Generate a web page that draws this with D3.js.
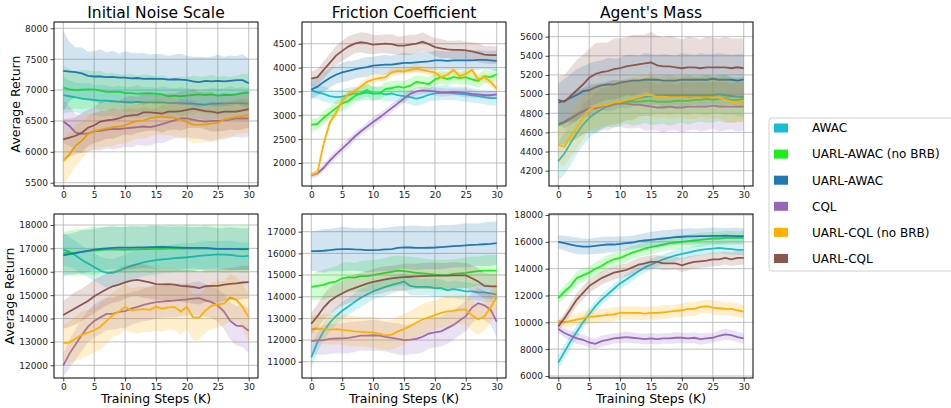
<!DOCTYPE html>
<html>
<head>
<meta charset="utf-8">
<script src="https://cdn.jsdelivr.net/npm/d3@7/dist/d3.min.js"></script>
<style>
body { margin: 0; background: #fff; }
text { font-family: "DejaVu Sans", sans-serif; }
</style>
</head>
<body>
<script>
// methods and colours, legend order
var methods = ["AWAC", "UARL-AWAC (no BRB)", "UARL-AWAC", "CQL", "UARL-CQL (no BRB)", "UARL-CQL"];
var colors = ["#17becf", "#1aef1a", "#1f77b4", "#9467bd", "#ffb000", "#8c564b"];

var steps = [0,1,2,3,4,5,6,7,8,9,10,11,12,13,14,15,16,17,18,19,20,21,22,23,24,25,26,27,28,29,30];
var xTicks = [0, 5, 10, 15, 20, 25, 30];
var titles = ["Initial Noise Scale", "Friction Coefficient", "Agent's Mass"];

// y tick labels per panel (row 1 then row 2)
var yTicks = [
  [5500, 6000, 6500, 7000, 7500, 8000],
  [2000, 2500, 3000, 3500, 4000, 4500],
  [4200, 4400, 4600, 4800, 5000, 5200, 5400, 5600],
  [12000, 13000, 14000, 15000, 16000, 17000, 18000],
  [11000, 12000, 13000, 14000, 15000, 16000, 17000],
  [6000, 8000, 10000, 12000, 14000, 16000, 18000]
];
var yLimits = [[5447, 8102], [1518, 4955], [4040, 5753], [11457, 18470], [10248, 17817], [5851, 18075]];

// ---- Initial Noise Scale (top) ----
var noiseTopMean = [
  [6920,6900,6880,6860,6850,6840,6830,6830,6820,6810,6810,6800,6810,6800,6800,6800,6800,6790,6790,6790,6780,6780,6770,6760,6780,6780,6780,6790,6790,6790,6780],
  [7040,7010,7000,7005,7010,7010,6990,6970,6970,6975,6950,6950,6940,6945,6950,6940,6930,6900,6910,6900,6910,6920,6930,6920,6930,6910,6920,6920,6930,6950,6960],
  [7310,7300,7290,7270,7230,7220,7220,7210,7215,7200,7200,7190,7195,7180,7185,7180,7180,7170,7175,7170,7160,7140,7130,7150,7140,7150,7140,7150,7160,7160,7110],
  [6490,6420,6310,6290,6300,6330,6340,6360,6370,6370,6380,6390,6400,6410,6400,6420,6450,6480,6510,6540,6540,6520,6500,6490,6500,6500,6510,6520,6540,6540,6540],
  [5850,5960,6100,6180,6290,6330,6360,6380,6400,6410,6430,6470,6500,6510,6540,6560,6570,6560,6550,6520,6480,6440,6440,6440,6460,6470,6520,6540,6570,6580,6600],
  [6200,6230,6260,6310,6390,6430,6490,6510,6520,6540,6580,6590,6600,6640,6640,6630,6620,6650,6650,6660,6680,6700,6680,6660,6650,6630,6650,6650,6650,6670,6690]
];
var noiseTopSpread = [
  [300,260,240,250,270,240,260,250,230,260,240,250,270,240,250,230,260,250,240,260,250,240,230,250,260,240,250,270,240,260,250],
  [350,330,300,320,310,290,320,300,310,280,300,320,290,310,300,280,310,300,290,320,300,310,290,300,320,300,310,290,300,310,300],
  [650,480,400,420,390,410,440,400,420,390,430,410,400,420,390,410,400,380,400,420,390,400,410,380,400,420,400,410,390,420,400],
  [350,320,300,310,290,300,320,300,330,310,300,320,290,310,300,280,310,300,290,320,300,310,290,300,320,300,310,290,300,310,300],
  [380,350,330,300,290,280,300,290,310,280,300,290,280,300,290,280,300,290,300,280,290,300,290,280,300,290,280,300,290,280,300],
  [330,310,300,320,300,290,320,300,310,290,300,320,290,310,300,290,310,300,290,320,300,310,290,300,320,300,310,290,300,310,300]
];

// ---- Friction Coefficient (top) ----
var frictionTopMean = [
  [3520,3480,3450,3400,3380,3390,3420,3460,3450,3480,3450,3470,3440,3460,3420,3400,3380,3350,3380,3430,3460,3470,3470,3460,3450,3440,3420,3400,3380,3360,3360],
  [2800,2820,2950,3050,3150,3250,3300,3400,3470,3530,3470,3450,3550,3570,3600,3580,3620,3700,3680,3650,3750,3800,3760,3800,3780,3800,3750,3720,3820,3800,3860],
  [3540,3600,3700,3780,3850,3900,3930,3960,3990,4010,4040,4050,4060,4060,4080,4100,4100,4110,4120,4130,4150,4150,4140,4150,4150,4150,4150,4160,4160,4150,4140],
  [1740,1780,1900,2050,2180,2300,2420,2550,2660,2760,2860,2950,3050,3150,3250,3350,3450,3500,3520,3510,3500,3480,3480,3490,3480,3470,3450,3440,3420,3420,3440],
  [1750,1800,2400,2850,3050,3300,3450,3500,3600,3700,3750,3780,3800,3900,3930,3920,3950,3980,3950,3920,3900,3800,3850,3950,3820,3870,3950,3750,3800,3700,3560],
  [3770,3800,3950,4100,4250,4350,4440,4500,4530,4510,4480,4490,4500,4490,4460,4460,4480,4500,4540,4490,4430,4400,4380,4370,4370,4360,4340,4310,4270,4260,4260]
];
var frictionTopSpread = [
  [150,140,160,150,140,150,160,140,150,160,150,140,150,160,150,140,150,160,150,140,150,160,150,140,150,160,150,140,150,160,150],
  [130,120,140,130,150,160,140,150,130,140,150,130,140,150,130,140,150,130,140,150,130,140,150,130,140,150,130,140,150,130,140],
  [200,190,210,200,190,200,210,190,200,210,190,200,210,190,200,210,190,200,210,190,200,210,190,200,210,190,200,210,190,200,210],
  [60,70,80,90,80,90,100,90,80,90,100,90,80,90,80,90,80,90,80,70,80,90,80,70,80,90,80,70,80,90,80],
  [50,60,80,90,80,90,80,70,80,90,80,70,80,90,80,70,80,90,80,70,80,90,80,70,80,90,80,70,80,90,80],
  [150,170,180,190,200,210,220,200,210,220,200,190,200,210,190,200,210,190,200,180,190,200,180,190,200,180,190,200,180,190,180]
];

// ---- Agent's Mass (top) ----
var massTopMean = [
  [4300,4380,4490,4590,4680,4750,4800,4840,4870,4890,4910,4930,4940,4960,4970,4980,4990,4990,4990,4990,4990,4990,4990,4990,4990,4990,5000,4990,4980,4970,4970],
  [4670,4700,4740,4780,4820,4850,4860,4880,4890,4900,4910,4920,4920,4920,4930,4930,4920,4920,4920,4930,4930,4930,4940,4940,4950,4940,4950,4950,4940,4940,4950],
  [4910,4930,4960,4990,5030,5040,5070,5090,5100,5100,5120,5130,5140,5140,5150,5150,5150,5140,5140,5140,5150,5150,5150,5150,5150,5160,5150,5150,5150,5140,5150],
  [4690,4710,4750,4790,4820,4850,4850,4870,4880,4900,4900,4900,4890,4890,4880,4870,4860,4860,4870,4860,4860,4870,4870,4870,4870,4880,4870,4870,4870,4870,4870],
  [4470,4450,4560,4650,4750,4840,4870,4880,4890,4910,4920,4940,4950,4970,4990,4990,4970,4970,4970,4970,4970,4970,4960,4970,4970,4970,4960,4940,4920,4910,4930],
  [4940,4920,4980,5040,5100,5170,5210,5230,5240,5260,5270,5290,5300,5310,5320,5330,5300,5290,5290,5280,5270,5280,5280,5270,5280,5280,5280,5280,5270,5280,5270]
];
var massTopSpread = [
  [200,220,230,210,220,200,210,220,200,210,220,200,210,190,200,210,190,200,210,190,200,210,190,200,210,190,200,210,190,200,210],
  [220,230,240,250,240,230,250,240,230,250,240,230,250,240,230,250,240,230,250,240,230,250,240,230,250,240,230,250,240,230,240],
  [200,230,250,270,260,280,270,260,280,270,260,280,270,260,280,270,260,280,270,260,280,270,260,280,270,260,280,270,260,280,270],
  [220,230,240,250,240,260,250,240,260,250,240,260,250,240,260,250,240,260,250,240,260,250,240,260,250,240,260,250,240,260,250],
  [200,210,220,230,220,210,230,220,210,230,220,210,230,220,210,230,220,210,230,220,210,230,220,210,230,220,210,230,220,210,220],
  [250,280,300,320,310,300,320,310,300,320,310,300,320,310,300,320,310,300,320,310,300,320,310,300,320,310,300,320,310,300,310]
];

// ---- Initial Noise Scale (bottom) ----
var noiseBotMean = [
  [16950,16850,16700,16500,16350,16200,16050,15950,15950,16050,16150,16250,16330,16400,16450,16500,16530,16550,16580,16600,16620,16650,16680,16700,16720,16740,16730,16720,16680,16660,16680],
  [16800,16810,16820,16850,16880,16900,16930,16950,16960,16950,16940,16950,16960,16970,16970,16980,16980,16990,16990,16990,17000,16990,16990,16990,16980,16980,16970,16970,16970,16960,16970],
  [16700,16750,16800,16850,16900,16950,16980,17000,17020,17030,17030,17030,17040,17040,17050,17050,17060,17050,17040,17030,17020,17020,17020,17020,17000,16980,16980,16980,16980,16970,16970],
  [12000,12500,12900,13300,13650,13900,14050,14200,14200,14280,14320,14420,14500,14580,14650,14700,14720,14750,14770,14800,14820,14850,14870,14780,14700,14550,14300,13900,13700,13680,13480],
  [12950,12970,13150,13300,13400,13500,13650,13900,14150,14300,14500,14350,14380,14400,14370,14500,14420,14480,14500,14300,14500,14050,14050,14350,14550,14600,14650,14900,14800,14500,14050],
  [14150,14300,14450,14600,14750,14950,15100,15250,15380,15450,15550,15620,15650,15600,15550,15470,15460,15470,15450,15400,15380,15350,15300,15380,15400,15400,15450,15480,15500,15540,15560]
];
var noiseBotSpread = [
  [700,650,600,620,600,580,600,620,600,580,600,620,600,580,600,620,600,580,600,620,600,580,600,620,600,580,600,620,600,580,600],
  [900,950,1000,980,1000,1050,1000,980,1020,1000,980,1020,1000,980,1020,1000,980,1020,1000,980,1020,1000,980,1020,1000,980,1020,1000,980,1020,1000],
  [900,880,900,920,900,880,900,920,900,880,900,920,900,880,900,920,900,880,900,920,900,880,900,920,900,880,900,920,900,880,900],
  [500,600,650,700,680,700,720,700,680,700,720,700,680,700,720,700,680,700,720,700,680,700,720,700,680,700,750,800,850,900,950],
  [800,900,950,1000,980,950,1000,980,950,1000,980,950,1000,980,950,1000,980,950,1000,980,950,1000,980,950,1000,980,950,1000,980,950,1000],
  [600,650,700,680,700,720,700,680,700,720,700,680,700,720,700,680,700,720,700,680,700,720,700,680,700,720,700,680,700,720,700]
];

// ---- Friction Coefficient (bottom) ----
var frictionBotMean = [
  [11200,11900,12400,12800,13100,13350,13550,13750,13950,14100,14250,14350,14450,14550,14620,14700,14500,14450,14450,14450,14400,14400,14300,14350,14300,14250,14250,14200,14200,14150,14100],
  [14450,14500,14550,14650,14700,14850,14900,14880,14950,14950,15000,15050,15100,15150,15200,15180,15150,15100,15080,15050,15020,15000,15000,15050,15080,15100,15150,15180,15200,15200,15200],
  [16100,16100,16120,16150,16180,16200,16200,16180,16170,16150,16150,16160,16180,16200,16250,16280,16270,16250,16250,16260,16270,16290,16310,16330,16350,16370,16390,16400,16420,16440,16470],
  [11950,11980,12000,12050,12070,12080,12100,12150,12200,12200,12220,12200,12150,12100,12050,12000,12020,12050,12150,12300,12350,12400,12550,12700,12900,13100,13500,13700,13600,13400,12850],
  [12500,12520,12500,12480,12500,12470,12450,12400,12380,12360,12350,12300,12220,12250,12400,12500,12650,12800,12950,13050,13150,13250,13320,13350,13400,13400,13150,12950,13100,13500,14000],
  [12750,13100,13500,13800,14000,14150,14300,14400,14500,14600,14680,14740,14800,14850,14880,14900,14920,14940,14950,14960,14970,14970,14970,14980,14980,14980,14850,14700,14500,14480,14480]
];
var frictionBotSpread = [
  [500,450,420,400,420,400,380,400,420,400,380,400,420,400,380,400,420,400,380,400,420,400,380,400,420,400,380,400,420,400,380],
  [600,650,700,680,700,720,700,680,700,720,700,680,700,720,700,680,700,720,700,680,700,720,700,680,700,720,700,680,700,720,700],
  [900,950,1000,980,1000,1020,1000,980,1000,1020,1000,980,1000,1020,1000,980,1000,1020,1000,980,1000,1020,1000,980,1000,1020,1000,980,1000,1020,1000],
  [600,650,680,700,680,700,720,700,680,700,720,700,680,700,720,700,680,700,720,700,680,700,720,700,680,700,720,700,680,700,720],
  [600,650,680,700,680,700,720,700,680,700,720,700,680,700,720,700,680,700,720,700,680,700,720,700,680,700,720,700,680,700,720],
  [500,550,600,620,600,580,600,620,600,580,600,620,600,580,600,620,600,580,600,620,600,580,600,620,600,580,600,620,600,580,600]
];

// ---- Agent's Mass (bottom) ----
var massBotMean = [
  [7000,7800,8600,9300,10000,10600,11200,11700,12100,12500,12900,13200,13500,13800,14100,14300,14500,14700,14850,15000,15100,15200,15300,15400,15450,15500,15550,15500,15450,15400,15400],
  [11800,12300,12700,13300,13500,13700,14000,14200,14500,14700,14800,15000,15200,15350,15500,15600,15700,15800,15900,15950,16000,16050,16100,16150,16200,16250,16250,16300,16300,16300,16300],
  [16000,15900,15800,15700,15650,15650,15700,15750,15800,15800,15850,15900,15950,16050,16100,16150,16200,16250,16300,16350,16380,16400,16400,16420,16430,16450,16450,16460,16450,16430,16420],
  [9500,9200,9000,8800,8700,8500,8400,8600,8700,8800,8850,8900,8850,8800,8750,8800,8750,8800,8800,8850,8850,8800,8850,8750,8800,8850,9000,9100,9050,8900,8800],
  [10100,10000,10100,10200,10300,10400,10450,10500,10550,10600,10700,10700,10700,10700,10650,10700,10700,10750,10800,10850,10900,11000,11000,11150,11200,11100,11050,11000,11000,10900,10800],
  [9700,10300,11000,11700,12200,12700,13000,13300,13500,13700,13800,13900,14100,14300,14400,14500,14500,14400,14400,14400,14250,14400,14500,14550,14600,14700,14700,14800,14700,14800,14800]
];
var massBotSpread = [
  [500,550,500,480,450,420,400,420,400,380,400,420,400,380,400,420,400,380,400,420,400,380,400,420,400,380,400,420,400,380,400],
  [400,450,500,520,500,480,500,520,500,480,500,520,500,480,500,520,500,480,500,520,500,480,500,520,500,480,500,520,500,480,500],
  [500,550,600,620,600,580,600,620,600,580,550,520,500,520,550,580,600,620,600,580,600,620,600,580,600,620,600,580,600,620,600],
  [300,350,400,420,400,380,400,420,400,380,400,420,400,380,400,420,400,380,400,420,400,380,400,420,400,380,400,420,400,380,400],
  [300,400,450,480,500,520,500,480,500,520,500,480,500,520,500,480,500,520,500,480,500,520,500,480,500,520,500,480,500,520,500],
  [300,400,450,480,500,520,500,480,500,520,500,480,500,520,500,480,500,520,500,480,500,520,500,480,500,520,500,480,500,520,500]
];

var panelMeans = [noiseTopMean, frictionTopMean, massTopMean, noiseBotMean, frictionBotMean, massBotMean];
var panelSpreads = [noiseTopSpread, frictionTopSpread, massTopSpread, noiseBotSpread, frictionBotSpread, massBotSpread];

// layout
var width = 951, height = 408;
var colLeft = [54, 302, 549];
var rowTop = [22, 214];
var panelW = 204, panelH = 164;
var yLabelOffset = [-34, -40];

var svg = d3.select("body").append("svg")
  .attr("width", width)
  .attr("height", height);

svg.append("rect").attr("width", width).attr("height", height).attr("fill", "#fff");

panelMeans.forEach(function(means, p) {
  var col = p % 3, row = Math.floor(p / 3);
  var left = colLeft[col], top = rowTop[row];

  var x = d3.scaleLinear().domain([-1.5, 31.5]).range([0, panelW]);
  var y = d3.scaleLinear().domain(yLimits[p]).range([panelH, 0]);

  var g = svg.append("g").attr("transform", "translate(" + left + "," + top + ")");

  g.append("clipPath").attr("id", "clip" + p)
    .append("rect").attr("width", panelW).attr("height", panelH);

  // grid
  g.selectAll(".vgrid").data(xTicks).enter().append("line")
    .attr("x1", function(d) { return x(d); }).attr("x2", function(d) { return x(d); })
    .attr("y1", 0).attr("y2", panelH)
    .attr("stroke", "#b0b0b0").attr("stroke-width", 0.8);
  g.selectAll(".hgrid").data(yTicks[p]).enter().append("line")
    .attr("y1", function(d) { return y(d); }).attr("y2", function(d) { return y(d); })
    .attr("x1", 0).attr("x2", panelW)
    .attr("stroke", "#b0b0b0").attr("stroke-width", 0.8);

  var plot = g.append("g").attr("clip-path", "url(#clip" + p + ")");

  var area = d3.area()
    .x(function(d) { return x(d[0]); })
    .y0(function(d) { return y(d[1] - d[2]); })
    .y1(function(d) { return y(d[1] + d[2]); });
  var line = d3.line()
    .x(function(d) { return x(d[0]); })
    .y(function(d) { return y(d[1]); });

  means.forEach(function(m, s) {
    var pts = steps.map(function(t, i) { return [t, m[i], panelSpreads[p][s][i]]; });
    plot.append("path").datum(pts)
      .attr("d", area)
      .attr("fill", colors[s]).attr("fill-opacity", 0.2).attr("stroke", "none");
    plot.append("path").datum(pts)
      .attr("d", line)
      .attr("fill", "none").attr("stroke", colors[s]).attr("stroke-width", 1.8);
  });

  // axes
  var xAxis = g.append("g").attr("transform", "translate(0," + panelH + ")")
    .call(d3.axisBottom(x).tickValues(xTicks).tickSize(3.5).tickPadding(2.5));
  var yAxis = g.append("g")
    .call(d3.axisLeft(y).tickValues(yTicks[p]).tickSize(3.5).tickPadding(2.5).tickFormat(d3.format("d")));
  [xAxis, yAxis].forEach(function(a) {
    a.select(".domain").remove();
    a.selectAll("text").attr("font-size", 9).attr("fill", "#222")
      .attr("font-family", "DejaVu Sans, sans-serif");
    a.selectAll("line").attr("stroke", "#222").attr("stroke-width", 0.8);
  });

  // frame
  g.append("rect").attr("width", panelW).attr("height", panelH)
    .attr("fill", "none").attr("stroke", "#000").attr("stroke-width", 1);

  if (row === 0) {
    g.append("text").attr("x", panelW / 2).attr("y", -4)
      .attr("text-anchor", "middle").attr("font-size", 15.5).attr("fill", "#000")
      .text(titles[col]);
  } else {
    g.append("text").attr("x", panelW / 2).attr("y", panelH + 24.5)
      .attr("text-anchor", "middle").attr("font-size", 12.5).attr("fill", "#000")
      .text("Training Steps (K)");
  }
  if (col === 0) {
    g.append("text")
      .attr("transform", "translate(" + yLabelOffset[row] + "," + (panelH / 2) + ") rotate(-90)")
      .attr("text-anchor", "middle").attr("font-size", 12.5).attr("fill", "#000")
      .text("Average Return");
  }
});

// legend
var legend = svg.append("g").attr("transform", "translate(769,118)");
legend.append("rect").attr("width", 200).attr("height", 153).attr("rx", 3)
  .attr("fill", "#fff").attr("stroke", "#d0d0d0").attr("stroke-width", 1);
methods.forEach(function(name, i) {
  var row = legend.append("g").attr("transform", "translate(0," + (10 + i * 26.1) + ")");
  row.append("rect").attr("x", 5).attr("y", -4.5).attr("width", 14).attr("height", 9)
    .attr("fill", colors[i]);
  row.append("text").attr("x", 43).attr("y", 0).attr("dy", "0.36em")
    .attr("font-size", 12).attr("fill", "#000").text(name);
});
</script>
</body>
</html>
